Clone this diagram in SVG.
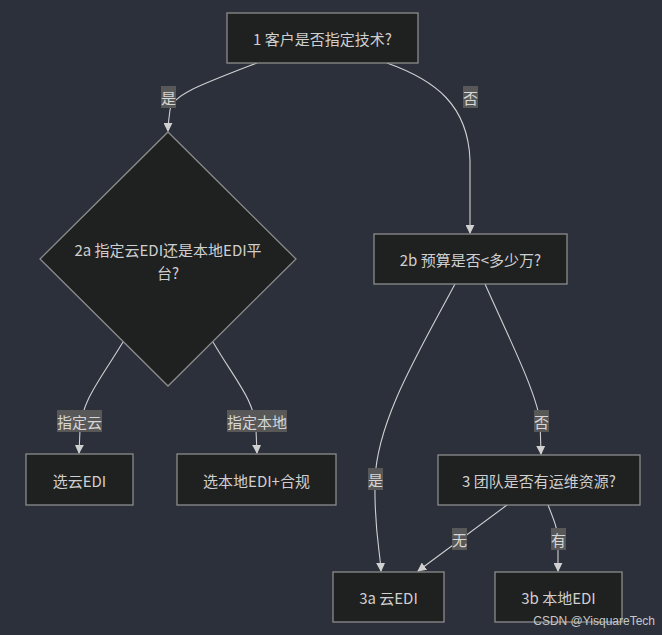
<svg xmlns="http://www.w3.org/2000/svg" width="662" height="635" viewBox="0 0 662 635">
<style>
.bg{fill:#2b303b}
.node rect,.node polygon{fill:#1f2020;stroke:#8c8c8c;stroke-width:1.3}
.t{font-family:"Noto Sans CJK SC","Liberation Sans",sans-serif;font-size:15px;fill:#cfcfcf;text-anchor:middle;dominant-baseline:central}
.edge path{fill:none;stroke:#d0d0d0;stroke-width:1.1}
.lbl rect{fill:#585858}
.lt{font-family:"Noto Sans CJK SC","Liberation Sans",sans-serif;font-size:15px;fill:#d6d6d6;text-anchor:middle;dominant-baseline:central}
.wm{font-family:"Liberation Sans",sans-serif;font-size:12px;fill:#c8c8c8;text-anchor:end}
</style>
<defs>
<marker id="arr" viewBox="0 0 10 10" refX="9" refY="5" markerWidth="9" markerHeight="9" markerUnits="userSpaceOnUse" orient="auto">
<path d="M0,0 L10,5 L0,10 z" fill="#d0d0d0"/>
</marker>
</defs>
<rect class="bg" x="0" y="0" width="662" height="635"/>

<g id="connectors" class="edge">
<path d="M257,63 C200,85 172,95 170,110 C169,118 168,124 168,131" marker-end="url(#arr)"/>
<path d="M387,63 C435,80 468,105 470,160 L470,233" marker-end="url(#arr)"/>
<path d="M123,342 C100,380 82,400 80,430 L79,453" marker-end="url(#arr)"/>
<path d="M213,342 C235,380 255,400 256,430 L257,453" marker-end="url(#arr)"/>
<path d="M455,284 C420,350 377,420 375,480 C374,530 380,550 381,571" marker-end="url(#arr)"/>
<path d="M485,284 C510,340 535,390 540,420 L541,454" marker-end="url(#arr)"/>
<path d="M507,505 L418,571" marker-end="url(#arr)"/>
<path d="M548,505 C554,520 558,530 558,540 L558,571" marker-end="url(#arr)"/>
</g>

<g id="edge-labels" class="lbl">
<rect x="161" y="86" width="15" height="22"/><text class="lt" x="168.5" y="97">是</text>
<rect x="463" y="86" width="15" height="22"/><text class="lt" x="470.5" y="97">否</text>
<rect x="57" y="410" width="45" height="22"/><text class="lt" x="79.5" y="421">指定云</text>
<rect x="227" y="410" width="60" height="22"/><text class="lt" x="257" y="421">指定本地</text>
<rect x="534" y="410" width="15" height="22"/><text class="lt" x="541.5" y="421">否</text>
<rect x="368" y="468" width="15" height="22"/><text class="lt" x="375.5" y="479">是</text>
<rect x="452" y="528" width="15" height="22"/><text class="lt" x="459.5" y="539">无</text>
<rect x="551" y="528" width="15" height="22"/><text class="lt" x="558.5" y="539">有</text>
</g>

<g id="n1" class="node">
<rect x="227" y="13" width="191" height="50"/>
<text class="t" x="322.5" y="38">1 客户是否指定技术?</text>
</g>
<g id="n2a" class="node">
<polygon points="168,132 296,259 168,386 40,259"/>
<text class="t" x="168" y="249">2a 指定云EDI还是本地EDI平</text>
<text class="t" x="168" y="272">台?</text>
</g>
<g id="n2b" class="node">
<rect x="374" y="234" width="193" height="50"/>
<text class="t" x="470.5" y="259">2b 预算是否&lt;多少万?</text>
</g>
<g id="nCloud" class="node">
<rect x="26" y="454" width="107" height="51"/>
<text class="t" x="79.5" y="480">选云EDI</text>
</g>
<g id="nLocal" class="node">
<rect x="177" y="454" width="159" height="51"/>
<text class="t" x="256.5" y="480">选本地EDI+合规</text>
</g>
<g id="n3" class="node">
<rect x="438" y="455" width="202" height="50"/>
<text class="t" x="539" y="480">3 团队是否有运维资源?</text>
</g>
<g id="n3a" class="node">
<rect x="333" y="572" width="111" height="50"/>
<text class="t" x="388.5" y="597">3a 云EDI</text>
</g>
<g id="n3b" class="node">
<rect x="495" y="572" width="127" height="50"/>
<text class="t" x="558.5" y="597">3b 本地EDI</text>
</g>

<text class="wm" x="655" y="625">CSDN @YisquareTech</text>
</svg>
